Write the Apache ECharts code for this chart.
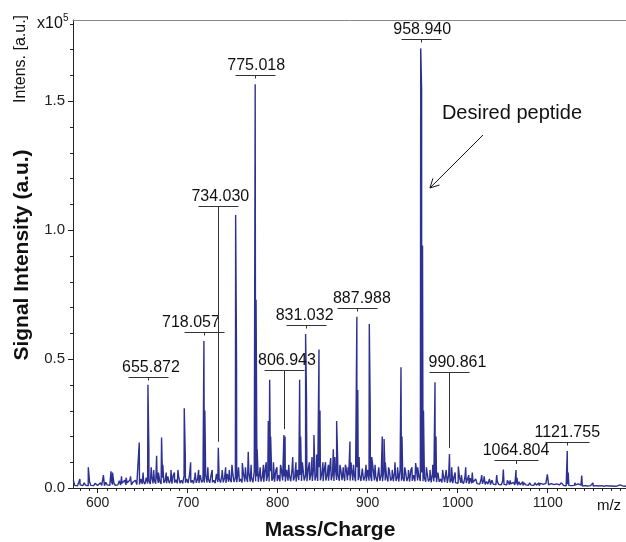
<!DOCTYPE html>
<html><head><meta charset="utf-8">
<script src="https://cdn.jsdelivr.net/npm/echarts@6.0.0/dist/echarts.min.js"></script>
<style>html,body{margin:0;padding:0;background:#fff}#c{width:626px;height:542px}</style>
</head><body><div id="c"></div>
<script>
// ---- data (intensity in units of 1e5 a.u.) ----
const xRange = [572.6, 1187];
const yRange = [0, 1.814];
const xTicks = [600, 700, 800, 900, 1000, 1100];
const yTicks = [0, 0.5, 1.0, 1.5];
const yTickLabels = ['0.0', '0.5', '1.0', '1.5'];
const xMinorStep = 10, yMinorStep = 0.1;

// baseline noise [m/z, intensity] (upper points)
const noise = [
[573,0.03],[576,0.015],[579,0.022],[582,0.012],[585,0.02],[588,0.014],[591,0.024],[594,0.012],[597,0.018],[600,0.01],
[603,0.02],[606,0.014],[609,0.022],[612,0.012],[615,0.03],[618,0.02],[621,0.016],[624,0.028],[627,0.018],[630,0.03],
[633,0.02],[636,0.032],[639,0.022],[642,0.03],[645,0.018],[648,0.035],[651,0.025],[654,0.04],[657,0.028],[660,0.045],
[663,0.03],[666,0.042],[669,0.028],[672,0.04],[675,0.03],[678,0.045],[681,0.03],[684,0.05],[687,0.032],[690,0.045],
[693,0.03],[696,0.048],[699,0.035],[702,0.05],[705,0.03],[708,0.045],[711,0.035],[714,0.05],[717,0.03],[720,0.05],
[723,0.035],[726,0.05],[729,0.03],[732,0.055],[735,0.035],[738,0.05],[741,0.04],[744,0.055],[747,0.035],[750,0.06],
[753,0.04],[756,0.06],[759,0.035],[762,0.055],[765,0.045],[768,0.06],[771,0.04],[774,0.065],[777,0.045],[780,0.06],
[783,0.045],[786,0.07],[789,0.05],[792,0.065],[795,0.04],[798,0.07],[801,0.05],[804,0.075],[807,0.045],[810,0.07],
[813,0.05],[816,0.075],[819,0.045],[822,0.07],[825,0.05],[828,0.08],[831,0.05],[834,0.075],[837,0.055],[840,0.08],
[843,0.05],[846,0.08],[849,0.055],[852,0.075],[855,0.05],[858,0.085],[861,0.055],[864,0.08],[867,0.05],[870,0.075],
[873,0.055],[876,0.08],[879,0.05],[882,0.075],[885,0.055],[888,0.08],[891,0.05],[894,0.075],[897,0.045],[900,0.07],
[903,0.05],[906,0.075],[909,0.045],[912,0.07],[915,0.05],[918,0.075],[921,0.045],[924,0.07],[927,0.04],[930,0.065],
[933,0.045],[936,0.07],[939,0.04],[942,0.065],[945,0.045],[948,0.07],[951,0.05],[954,0.075],[957,0.045],[960,0.06],
[963,0.04],[966,0.06],[969,0.035],[972,0.055],[975,0.04],[978,0.06],[981,0.035],[984,0.05],[987,0.03],[990,0.05],
[993,0.03],[996,0.045],[999,0.028],[1002,0.042],[1005,0.025],[1008,0.04],[1011,0.025],[1014,0.038],[1017,0.022],[1020,0.035],
[1023,0.022],[1026,0.035],[1029,0.03],[1032,0.025],[1035,0.02],[1038,0.03],[1041,0.018],[1044,0.025],[1047,0.02],[1050,0.028],
[1053,0.018],[1056,0.025],[1059,0.016],[1062,0.022],[1065,0.018],[1068,0.024],[1071,0.015],[1074,0.02],[1077,0.016],[1080,0.02],
[1083,0.014],[1086,0.02],[1089,0.013],[1092,0.018],[1095,0.014],[1098,0.018],[1101,0.012],[1104,0.017],[1107,0.013],[1110,0.016],
[1113,0.012],[1116,0.016],[1119,0.012],[1122,0.015],[1125,0.011],[1128,0.015],[1131,0.012],[1134,0.016],[1137,0.011],[1140,0.014],
[1143,0.01],[1146,0.014],[1149,0.011],[1152,0.013],[1155,0.01],[1158,0.012],[1161,0.01],[1164,0.013],[1167,0.01],[1170,0.012],
[1173,0.01],[1176,0.012],[1179,0.009],[1182,0.011],[1185,0.01],[1188,0.011]
];

// baseline noise, lower points in between
const noiseLow = [
[574.5,0.01],[577.5,0.008],[580.5,0.012],[583.5,0.009],[586.5,0.011],[589.5,0.008],[592.5,0.01],[595.5,0.009],[598.5,0.012],[601.5,0.008],
[604.5,0.01],[607.5,0.009],[610.5,0.012],[613.5,0.01],[616.5,0.013],[619.5,0.01],[622.5,0.012],[625.5,0.011],[628.5,0.014],[631.5,0.012],
[634.5,0.013],[637.5,0.012],[640.5,0.015],[643.5,0.013],[646.5,0.014],[649.5,0.016],[652.5,0.015],[655.5,0.017],[658.5,0.016],[661.5,0.018],
[664.5,0.017],[667.5,0.019],[670.5,0.016],[673.5,0.02],[676.5,0.018],[679.5,0.019],[682.5,0.017],[685.5,0.02],[688.5,0.018],[691.5,0.019],
[694.5,0.018],[697.5,0.02],[700.5,0.019],[703.5,0.021],[706.5,0.018],[709.5,0.02],[712.5,0.019],[715.5,0.022],[718.5,0.02],[721.5,0.021],
[724.5,0.02],[727.5,0.022],[730.5,0.019],[733.5,0.023],[736.5,0.021],[739.5,0.022],[742.5,0.02],[745.5,0.024],[748.5,0.022],[751.5,0.023],
[754.5,0.022],[757.5,0.024],[760.5,0.021],[763.5,0.025],[766.5,0.023],[769.5,0.024],[772.5,0.022],[775.5,0.026],[778.5,0.024],[781.5,0.025],
[784.5,0.024],[787.5,0.027],[790.5,0.025],[793.5,0.028],[796.5,0.024],[799.5,0.027],[802.5,0.026],[805.5,0.029],[808.5,0.025],[811.5,0.028],
[814.5,0.026],[817.5,0.029],[820.5,0.025],[823.5,0.03],[826.5,0.027],[829.5,0.029],[832.5,0.026],[835.5,0.03],[838.5,0.027],[841.5,0.029],
[844.5,0.027],[847.5,0.03],[850.5,0.026],[853.5,0.029],[856.5,0.028],[859.5,0.03],[862.5,0.027],[865.5,0.031],[868.5,0.028],[871.5,0.03],
[874.5,0.027],[877.5,0.03],[880.5,0.028],[883.5,0.029],[886.5,0.026],[889.5,0.03],[892.5,0.027],[895.5,0.029],[898.5,0.026],[901.5,0.028],
[904.5,0.027],[907.5,0.029],[910.5,0.025],[913.5,0.028],[916.5,0.026],[919.5,0.029],[922.5,0.025],[925.5,0.028],[928.5,0.026],[931.5,0.027],
[934.5,0.025],[937.5,0.028],[940.5,0.026],[943.5,0.027],[946.5,0.025],[949.5,0.028],[952.5,0.026],[955.5,0.029],[958.5,0.027],[961.5,0.026],
[964.5,0.024],[967.5,0.026],[970.5,0.022],[973.5,0.025],[976.5,0.023],[979.5,0.024],[982.5,0.021],[985.5,0.023],[988.5,0.02],[991.5,0.022],
[994.5,0.019],[997.5,0.021],[1000.5,0.018],[1003.5,0.02],[1006.5,0.017],[1009.5,0.019],[1012.5,0.016],[1015.5,0.018],[1018.5,0.015],[1021.5,0.017],
[1024.5,0.015],[1027.5,0.016],[1030.5,0.014],[1033.5,0.015],[1036.5,0.013],[1039.5,0.015],[1042.5,0.013],[1045.5,0.014],[1048.5,0.012],[1051.5,0.014],
[1054.5,0.012],[1057.5,0.013],[1060.5,0.011],[1063.5,0.012],[1066.5,0.011],[1069.5,0.012],[1072.5,0.01],[1075.5,0.012],[1078.5,0.01],[1081.5,0.011],
[1084.5,0.01],[1087.5,0.011],[1090.5,0.009],[1093.5,0.011],[1096.5,0.01],[1099.5,0.011],[1102.5,0.009],[1105.5,0.01],[1108.5,0.009],[1111.5,0.01],
[1114.5,0.009],[1117.5,0.01],[1120.5,0.008],[1123.5,0.01],[1126.5,0.009],[1129.5,0.01],[1132.5,0.008],[1135.5,0.009],[1138.5,0.008],[1141.5,0.009],
[1144.5,0.008],[1147.5,0.009],[1150.5,0.008],[1153.5,0.009],[1156.5,0.008],[1159.5,0.009],[1162.5,0.007],[1165.5,0.009],[1168.5,0.008],[1171.5,0.008],
[1174.5,0.007],[1177.5,0.008],[1180.5,0.007],[1183.5,0.008],[1186.5,0.007]
];

// peak apexes [m/z, intensity]
const peaks = [
[580.2,0.035],[589.6,0.08],[606.4,0.05],[614.8,0.065],[616.5,0.06],[626.5,0.045],[631.5,0.04],[636.5,0.045],
[646.2,0.176],[650.5,0.06],[655.872,0.40],[656.9,0.15],[659.5,0.08],[662.2,0.07],[665.5,0.125],[667.5,0.06],
[671.0,0.196],[672.4,0.09],[676.2,0.06],[681.5,0.07],[685.3,0.06],[689.2,0.07],[696.2,0.309],[697.4,0.12],
[703.3,0.10],[708.3,0.06],[712.2,0.07],[718.057,0.57],[719.1,0.30],[722.4,0.08],[727.3,0.07],[734.030,0.156],
[738.4,0.07],[742.2,0.08],[746.3,0.07],[749.2,0.09],[753.3,1.058],[754.3,0.49],[756.5,0.08],[760.7,0.097],
[764.2,0.08],[767.3,0.14],[770.5,0.09],[775.018,1.565],[776.0,0.73],[777.2,0.15],[780.5,0.08],[784.2,0.09],
[787.3,0.10],[789.6,0.26],[791.1,0.42],[792.2,0.20],[795.3,0.10],[799.2,0.08],[803.2,0.09],[806.943,0.205],
[808.2,0.20],[812.3,0.09],[816.7,0.12],[820.3,0.10],[824.4,0.42],[825.5,0.20],[827.4,0.10],[831.032,0.597],
[832.0,0.354],[835.3,0.10],[838.2,0.12],[840.3,0.205],[843.3,0.13],[845.9,0.537],[847.0,0.30],[850.3,0.10],
[853.2,0.10],[856.3,0.09],[858.9,0.116],[861.8,0.15],[863.5,0.12],[865.5,0.26],[866.6,0.12],[869.2,0.09],
[872.9,0.08],[875.2,0.09],[878.3,0.08],[880.3,0.18],[881.5,0.10],[884.2,0.09],[887.988,0.664],[889.0,0.38],
[890.5,0.12],[894.3,0.08],[898.2,0.09],[901.8,0.636],[902.8,0.315],[904.5,0.12],[908.2,0.09],[912.3,0.08],
[916.2,0.20],[918.2,0.19],[919.5,0.10],[923.2,0.08],[927.3,0.07],[930.3,0.10],[933.2,0.08],[937.0,0.468],
[938.1,0.20],[941.2,0.08],[945.3,0.07],[949.2,0.08],[953.3,0.097],[955.5,0.08],[958.940,1.704],[959.94,1.545],
[960.94,0.94],[962.0,0.30],[965.3,0.08],[969.2,0.07],[972.3,0.09],[974.8,0.41],[975.9,0.20],[979.2,0.06],
[983.3,0.07],[987.2,0.07],[990.861,0.132],[993.3,0.08],[997.2,0.06],[1000.7,0.083],[1004.2,0.05],[1008.9,0.08],
[1012.3,0.05],[1016.2,0.06],[1020.3,0.04],[1026.7,0.05],[1029.4,0.045],[1035.3,0.035],[1043.3,0.05],[1050.7,0.072],
[1055.2,0.03],[1058.3,0.03],[1064.804,0.07],[1066.0,0.04],[1072.3,0.025],[1081.2,0.025],[1090.3,0.02],[1099.6,0.053],
[1106.2,0.02],[1115.3,0.02],[1121.755,0.143],[1122.8,0.06],[1130.2,0.02],[1137.8,0.048],[1145.2,0.015],[1150.3,0.02],
[1158.2,0.015],[1170.3,0.012],[1180.2,0.012]
];

// annotated peaks and the intensity level of each label's underline
const annotMz = [655.872, 718.057, 734.030, 775.018, 806.943, 831.032, 887.988, 958.940, 990.861, 1064.804, 1121.755];
const annotLevel = [0.431, 0.606, 1.094, 1.600, 0.457, 0.632, 0.697, 1.739, 0.448, 0.109, 0.177];

// ---- layout / style ----
const FONT = "'Liberation Sans', Arial, Helvetica, sans-serif";
const BLUE = '#2d3192';
const INK = '#111';
const AX = '#222';
const labelShiftPx = {'655.872':3,'718.057':-13,'734.030':2,'775.018':1,'806.943':3,'831.032':-1,
  '887.988':5,'958.940':1.5,'990.861':8,'1064.804':0,'1121.755':0};
const arrowFrom = [1028.1, 1.368], arrowTo = [969.2, 1.163], noteAt = [1060.3, 1.45];

const spectrum = noise.concat(noiseLow, peaks).sort((a, b) => a[0] - b[0]);
function peakAt(m) {
  let best = null;
  peaks.forEach(p => { if (best === null || Math.abs(p[0]-m) < Math.abs(best[0]-m)) best = p; });
  return best[1];
}
const annotations = annotMz.map((m, i) => [m, peakAt(m), annotLevel[i]]);

// minor tick positions (every 10 m/z and every 0.1 intensity), excluding majors
const xMinor = [], yMinor = [];
for (let v = 580; v <= 1180; v += xMinorStep) if (v % 100 !== 0) xMinor.push([v, 0]);
for (let k = 1; k <= 18; k++) if (k % 5 !== 0) yMinor.push([xRange[0], +(k * yMinorStep).toFixed(1)]);

function renderLabel(params, api) {
  const mz = api.value(0), pk = api.value(1), lv = api.value(2);
  const text = annotMz[params.dataIndex].toFixed(3);
  const p = api.coord([mz, pk]);
  const u = api.coord([mz, lv]);
  const uy = Math.round(u[1]) + 0.5;
  const ux = Math.round(u[0]) + 0.5;
  const half = text.length > 7 ? 22 : 20;
  const dx = labelShiftPx[text] || 0;
  const yEnd = Math.max(uy + 3, p[1] - 6);
  return {type: 'group', children: [
    {type: 'line', shape: {x1: ux - half, y1: uy, x2: ux + half, y2: uy}, style: {stroke: '#333', lineWidth: 1}},
    {type: 'line', shape: {x1: ux, y1: uy, x2: ux, y2: yEnd}, style: {stroke: '#333', lineWidth: 1}},
    {type: 'text', x: u[0] + dx, y: uy - 9.5, style: {text: text, fill: INK, font: '16px ' + FONT, align: 'center', verticalAlign: 'middle'}}
  ]};
}
function renderXMinor(params, api) {
  const c = api.coord([api.value(0), api.value(1)]);
  const x = Math.round(c[0]) + 0.5, y = Math.round(c[1]);
  return {type: 'line', shape: {x1: x, y1: y, x2: x, y2: y + 3}, style: {stroke: AX, lineWidth: 1}};
}
function renderYMinor(params, api) {
  const c = api.coord([api.value(0), api.value(1)]);
  const x = Math.round(c[0]), y = Math.round(c[1]) + 0.5;
  return {type: 'line', shape: {x1: x - 3, y1: y, x2: x, y2: y}, style: {stroke: AX, lineWidth: 1}};
}

const chart = echarts.init(document.getElementById('c'), null, {renderer: 'canvas'});
chart.setOption({
  animation: false,
  backgroundColor: '#fff',
  grid: {left: 73, top: 20, right: 0, bottom: 54},
  xAxis: [{
    type: 'value', min: xRange[0], max: xRange[1], splitNumber: 5, position: 'bottom',
    axisLine: {onZero: false, lineStyle: {color: AX, width: 1}},
    axisTick: {show: true, length: 5, lineStyle: {color: AX}, customValues: xTicks},
    axisLabel: {color: AX, fontFamily: FONT, fontSize: 14, margin: 8,
      customValues: xTicks, formatter: (v) => String(Math.round(v))},
    splitLine: {show: false}
  }, {
    type: 'value', min: xRange[0], max: xRange[1], position: 'top',
    axisLine: {show: true, onZero: false, lineStyle: {color: '#888', width: 1}},
    axisTick: {show: false}, axisLabel: {show: false}, splitLine: {show: false}
  }],
  yAxis: {
    type: 'value', min: yRange[0], max: yRange[1], interval: 0.5,
    axisLine: {show: true, onZero: false, lineStyle: {color: AX, width: 1}},
    axisTick: {show: true, length: 5, lineStyle: {color: AX}, customValues: yTicks},
    axisLabel: {color: AX, fontFamily: FONT, fontSize: 15, margin: 8, customValues: yTicks,
      formatter: (v) => yTickLabels[yTicks.indexOf(Math.round(v * 10) / 10)] || ''},
    splitLine: {show: false}
  },
  series: [{
    type: 'line', data: spectrum, xAxisIndex: 0, yAxisIndex: 0,
    showSymbol: false, symbol: 'none', sampling: null, clip: true,
    lineStyle: {color: BLUE, width: 1.4}, itemStyle: {color: BLUE}, z: 2
  }, {
    type: 'custom', data: annotations, xAxisIndex: 0, yAxisIndex: 0,
    encode: {x: 0, y: 1}, renderItem: renderLabel, clip: false, z: 5
  }, {
    type: 'custom', data: xMinor, xAxisIndex: 0, yAxisIndex: 0,
    encode: {x: 0, y: 1}, renderItem: renderXMinor, clip: false, z: 5, silent: true
  }, {
    type: 'custom', data: yMinor, xAxisIndex: 0, yAxisIndex: 0,
    encode: {x: 0, y: 1}, renderItem: renderYMinor, clip: false, z: 5, silent: true
  }]
});

const a0 = chart.convertToPixel({xAxisIndex: 0, yAxisIndex: 0}, arrowFrom);
const a1 = chart.convertToPixel({xAxisIndex: 0, yAxisIndex: 0}, arrowTo);
const nt = chart.convertToPixel({xAxisIndex: 0, yAxisIndex: 0}, noteAt);
const ang = Math.atan2(a0[1] - a1[1], a0[0] - a1[0]);
const hl = 10, ha = 28 * Math.PI / 180;
const h1 = [a1[0] + hl * Math.cos(ang + ha), a1[1] + hl * Math.sin(ang + ha)];
const h2 = [a1[0] + hl * Math.cos(ang - ha), a1[1] + hl * Math.sin(ang - ha)];

chart.setOption({graphic: [
  {type: 'text', x: 37, y: 24, style: {text: 'x10', fill: INK, font: '16px ' + FONT, align: 'left', verticalAlign: 'middle'}},
  {type: 'text', x: 63, y: 18, style: {text: '5', fill: INK, font: '10px ' + FONT, align: 'left', verticalAlign: 'middle'}},
  {type: 'text', x: 21, y: 59, rotation: Math.PI / 2, style: {text: 'Intens. [a.u.]', fill: INK, font: '16px ' + FONT, align: 'center', verticalAlign: 'middle'}},
  {type: 'text', x: 22, y: 255, rotation: Math.PI / 2, style: {text: 'Signal Intensity (a.u.)', fill: INK, font: 'bold 21px ' + FONT, align: 'center', verticalAlign: 'middle'}},
  {type: 'text', x: 330, y: 530, style: {text: 'Mass/Charge', fill: INK, font: 'bold 21px ' + FONT, align: 'center', verticalAlign: 'middle'}},
  {type: 'text', x: 609, y: 506, style: {text: 'm/z', fill: INK, font: '15px ' + FONT, align: 'center', verticalAlign: 'middle'}},
  {type: 'text', x: nt[0], y: nt[1], style: {text: 'Desired peptide', fill: INK, font: '20px ' + FONT, align: 'center', verticalAlign: 'middle'}},
  {type: 'line', shape: {x1: a0[0], y1: a0[1], x2: a1[0], y2: a1[1]}, style: {stroke: INK, lineWidth: 1}},
  {type: 'polyline', shape: {points: [h1, a1, h2]}, style: {stroke: INK, lineWidth: 1, fill: null}}
]});
</script></body></html>
